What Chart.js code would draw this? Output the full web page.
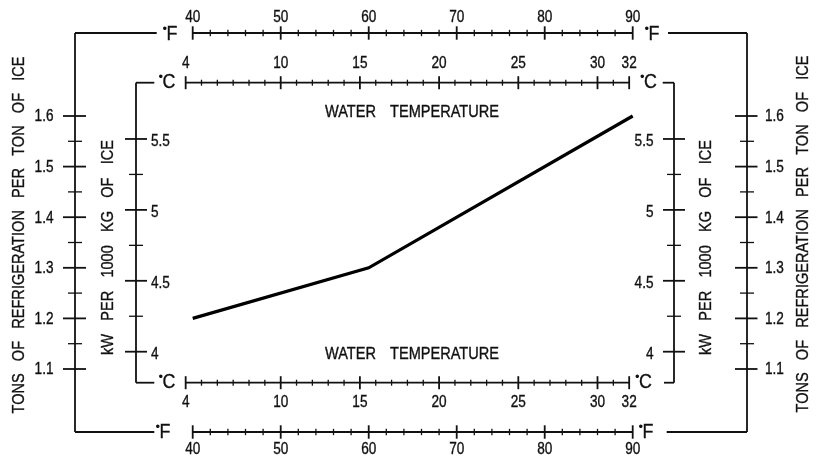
<!DOCTYPE html>
<html>
<head>
<meta charset="utf-8">
<script src="https://cdn.jsdelivr.net/npm/chart.js@4.4.1/dist/chart.umd.min.js"></script>
<style>
  html, body { margin: 0; padding: 0; background: #fff; }
  #wrap { width: 825px; height: 459px; }
</style>
</head>
<body>
<div id="wrap"><canvas id="chart" width="825" height="459"></canvas></div>
<script>
// datos
const waterTempF = [40, 60, 90];
const tonsPerTonIce = [1.2, 1.3, 1.6];

const fahrenheitTicks = [40, 50, 60, 70, 80, 90];
const celsiusTicks = [4, 10, 15, 20, 25, 30, 32];
const tonsTicks = [1.1, 1.2, 1.3, 1.4, 1.5, 1.6];
const kwTicks = [4, 4.5, 5, 5.5];

const fRange = [40, 90];
const tonsRange = [1.1, 1.6];
const kwRange = [3.878, 5.662];

const fMinorStep = 2;
const cMinorStep = 1;
const tonsMinorStep = 0.05;
const kwMinorStep = 0.25;

const toC = f => (f - 32) * 5 / 9;

// marco (pixeles)
const OUT = { left: 75, right: 747, top: 33, bottom: 432 };
const INN = { left: 136, right: 674, top: 82.7, bottom: 382.7 };

const FONT = '"Liberation Sans", Arial, sans-serif';
const INK = '#111';
const NUM = { size: 16, sx: 0.85 };     // numeros de escala
const TIT = { size: 16, sx: 0.91 };     // titulos
const UNI = { size: 21, sx: 0.85 };     // °F / °C

// letra condensada tipo CAD, con un trazo fino para darle cuerpo
function paint(ctx, s) {
    ctx.fillStyle = INK;
    ctx.strokeStyle = INK;
    ctx.lineWidth = 0.35;
    ctx.fillText(s, 0, 0);
    ctx.strokeText(s, 0, 0);
}

function txt(ctx, s, x, y, f, align, base, rot) {
    ctx.save();
    ctx.translate(x, y);
    if (rot) ctx.rotate(rot);
    ctx.scale(f.sx, 1);
    ctx.font = f.size + 'px ' + FONT;
    ctx.textAlign = align;
    ctx.textBaseline = base;
    paint(ctx, s);
    ctx.restore();
}

function spaced(ctx, s, cx, cy, f, len, rot) {
    ctx.save();
    ctx.translate(cx, cy);
    if (rot) ctx.rotate(rot);
    ctx.scale(f.sx, 1);
    ctx.font = f.size + 'px ' + FONT;
    const gaps = s.split(' ').length - 1;
    const w = ctx.measureText(s).width;
    ctx.wordSpacing = Math.max(0, (len / f.sx - w) / gaps) + 'px';
    ctx.textAlign = 'center';
    ctx.textBaseline = 'middle';
    paint(ctx, s);
    ctx.wordSpacing = '0px';
    ctx.restore();
}

function unit(ctx, letter, x, y, align) {
    // "•X": el grado aparece como un punto alto
    ctx.save();
    ctx.font = UNI.size + 'px ' + FONT;
    const lw = ctx.measureText(letter).width * UNI.sx;
    const x0 = align === 'right' ? x - lw : x + 4.5;
    txt(ctx, letter, x0, y, UNI, 'left', 'middle');
    ctx.font = '13px ' + FONT;
    ctx.textAlign = 'right';
    ctx.textBaseline = 'middle';
    ctx.fillStyle = INK;
    ctx.fillText('•', x0 + 0.5, y - 5);
    ctx.restore();
}

function seg(ctx, x1, y1, x2, y2) {
    ctx.beginPath();
    ctx.moveTo(x1, y1);
    ctx.lineTo(x2, y2);
    ctx.stroke();
}

function steps(lo, hi, step) {
    const out = [];
    const n = Math.round((hi - lo) / step);
    for (let i = 0; i <= n; i++) out.push(+(lo + i * step).toFixed(4));
    return out;
}

const isMajor = (arr, v) => arr.some(m => Math.abs(m - v) < 1e-6);

const nomogram = {
    id: 'nomogram',
    afterDatasetsDraw(chart) {
        const ctx = chart.ctx;
        const sx = chart.scales.x, sc = chart.scales.xC;
        const st = chart.scales.y, sk = chart.scales.yK;
        ctx.save();
        ctx.strokeStyle = INK;
        ctx.lineWidth = 1.8;
        ctx.lineCap = 'butt';

        // ---- marco exterior (°F / toneladas) ----
        seg(ctx, OUT.left, OUT.top, 156.7, OUT.top);
        seg(ctx, 668, OUT.top, OUT.right, OUT.top);
        seg(ctx, OUT.left, OUT.bottom, 154.3, OUT.bottom);
        seg(ctx, 666.7, OUT.bottom, OUT.right, OUT.bottom);
        seg(ctx, OUT.left, OUT.top, OUT.left, OUT.bottom);
        seg(ctx, OUT.right, OUT.top, OUT.right, OUT.bottom);

        // ---- marco interior (°C / kW) ----
        seg(ctx, INN.left, INN.top, 154.3, INN.top);
        seg(ctx, 662.7, INN.top, INN.right, INN.top);
        seg(ctx, INN.left, INN.bottom, 154.3, INN.bottom);
        seg(ctx, 664, INN.bottom, INN.right, INN.bottom);
        seg(ctx, INN.left, INN.top, INN.left, INN.bottom);
        seg(ctx, INN.right, INN.top, INN.right, INN.bottom);

        // ---- ejes °F arriba y abajo ----
        [[OUT.top, -1], [OUT.bottom, 1]].forEach(([y, dir]) => {
            ctx.lineWidth = 1.8;
            seg(ctx, sx.getPixelForValue(fRange[0]), y, sx.getPixelForValue(fRange[1]), y);
            steps(fRange[0], fRange[1], fMinorStep).forEach(v => {
                const px = sx.getPixelForValue(v);
                const major = isMajor(fahrenheitTicks, v);
                const h = major ? 6.7 : 3.2;
                ctx.lineWidth = major ? 1.8 : 1.3;
                seg(ctx, px, y - h, px, y + h);
            });
            fahrenheitTicks.forEach(v => {
                const px = sx.getPixelForValue(v);
                txt(ctx, String(v), px, dir < 0 ? y - 11.5 : y + 22, NUM, 'center', 'alphabetic');
            });
        });
        ctx.lineWidth = 1.8;
        unit(ctx, 'F', 177.5, OUT.top + 1, 'right');
        unit(ctx, 'F', 644, OUT.top + 1, 'left');
        unit(ctx, 'F', 170.5, OUT.bottom, 'right');
        unit(ctx, 'F', 638, OUT.bottom, 'left');

        // ---- ejes °C arriba y abajo ----
        const cLo = celsiusTicks[0], cHi = celsiusTicks[celsiusTicks.length - 1];
        [[INN.top, -1], [INN.bottom, 1]].forEach(([y, dir]) => {
            ctx.lineWidth = 1.8;
            seg(ctx, sc.getPixelForValue(cLo), y, sc.getPixelForValue(cHi), y);
            steps(cLo, cHi, cMinorStep).forEach(v => {
                const px = sc.getPixelForValue(v);
                const major = isMajor(celsiusTicks, v);
                const h = major ? 6.5 : 3;
                ctx.lineWidth = major ? 1.8 : 1.3;
                seg(ctx, px, y - h, px, y + h);
            });
            celsiusTicks.forEach(v => {
                const px = sc.getPixelForValue(v);
                txt(ctx, String(v), px, dir < 0 ? y - 14.4 : y + 24, NUM, 'center', 'alphabetic');
            });
        });
        ctx.lineWidth = 1.8;
        unit(ctx, 'C', 175.5, INN.top, 'right');
        unit(ctx, 'C', 639.5, INN.top, 'left');
        unit(ctx, 'C', 175.5, INN.bottom, 'right');
        unit(ctx, 'C', 634.5, INN.bottom, 'left');

        // ---- ejes toneladas izquierda y derecha ----
        steps(tonsTicks[0], tonsTicks[tonsTicks.length - 1], tonsMinorStep).forEach(v => {
            const py = st.getPixelForValue(v);
            if (isMajor(tonsTicks, v)) {
                ctx.lineWidth = 1.8;
                seg(ctx, OUT.left - 12, py, OUT.left + 11, py);
                seg(ctx, OUT.right - 12, py, OUT.right + 10.5, py);
            } else {
                ctx.lineWidth = 1.3;
                seg(ctx, OUT.left - 7, py, OUT.left + 7, py);
                seg(ctx, OUT.right - 7, py, OUT.right + 7, py);
            }
        });
        tonsTicks.forEach(v => {
            const py = st.getPixelForValue(v);
            txt(ctx, v.toFixed(1), 53.5, py + 1, NUM, 'right', 'middle');
            txt(ctx, v.toFixed(1), 765, py + 1, NUM, 'left', 'middle');
        });

        // ---- ejes kW izquierda y derecha ----
        steps(kwTicks[0], kwTicks[kwTicks.length - 1], kwMinorStep).forEach(v => {
            const py = sk.getPixelForValue(v);
            const major = isMajor(kwTicks, v);
            const h = major ? 11 : 7;
            ctx.lineWidth = major ? 1.8 : 1.3;
            seg(ctx, INN.left - h, py, INN.left + h, py);
            seg(ctx, INN.right - h, py, INN.right + h, py);
        });
        kwTicks.forEach(v => {
            const py = sk.getPixelForValue(v);
            txt(ctx, String(v), 151, py + 2.5, NUM, 'left', 'middle');
            txt(ctx, String(v), 653.5, py + 2.5, NUM, 'right', 'middle');
        });

        // ---- titulos ----
        const up = -Math.PI / 2;
        spaced(ctx, 'TONS OF REFRIGERATION PER TON OF ICE', 20, 235, TIT, 357, up);
        spaced(ctx, 'TONS OF REFRIGERATION PER TON OF ICE', 803.5, 234, TIT, 357, up);
        spaced(ctx, 'kW PER 1000 KG OF ICE', 108.5, 247.5, TIT, 215, up);
        spaced(ctx, 'kW PER 1000 KG OF ICE', 707, 247.5, TIT, 215, up);
        spaced(ctx, 'WATER TEMPERATURE', 412, 112.5, TIT, 174);
        spaced(ctx, 'WATER TEMPERATURE', 412, 355, TIT, 174);

        ctx.restore();
    }
};

new Chart(document.getElementById('chart'), {
    type: 'line',
    data: {
        datasets: [{
            data: waterTempF.map((f, i) => ({ x: f, y: tonsPerTonIce[i] })),
            borderColor: '#000',
            borderWidth: 3.2,
            pointRadius: 0,
            tension: 0,
            clip: false,
            fill: false
        }]
    },
    options: {
        responsive: false,
        animation: false,
        layout: { padding: { left: 192.7, right: 192.3, top: 116, bottom: 90 } },
        plugins: { legend: { display: false }, tooltip: { enabled: false } },
        scales: {
            x: { type: 'linear', min: fRange[0], max: fRange[1], display: false },
            y: { type: 'linear', min: tonsRange[0], max: tonsRange[1], display: false },
            xC: { type: 'linear', axis: 'x', position: 'bottom', min: toC(fRange[0]), max: toC(fRange[1]), display: false },
            yK: { type: 'linear', axis: 'y', position: 'right', min: kwRange[0], max: kwRange[1], display: false }
        }
    },
    plugins: [nomogram]
});
</script>
</body>
</html>
